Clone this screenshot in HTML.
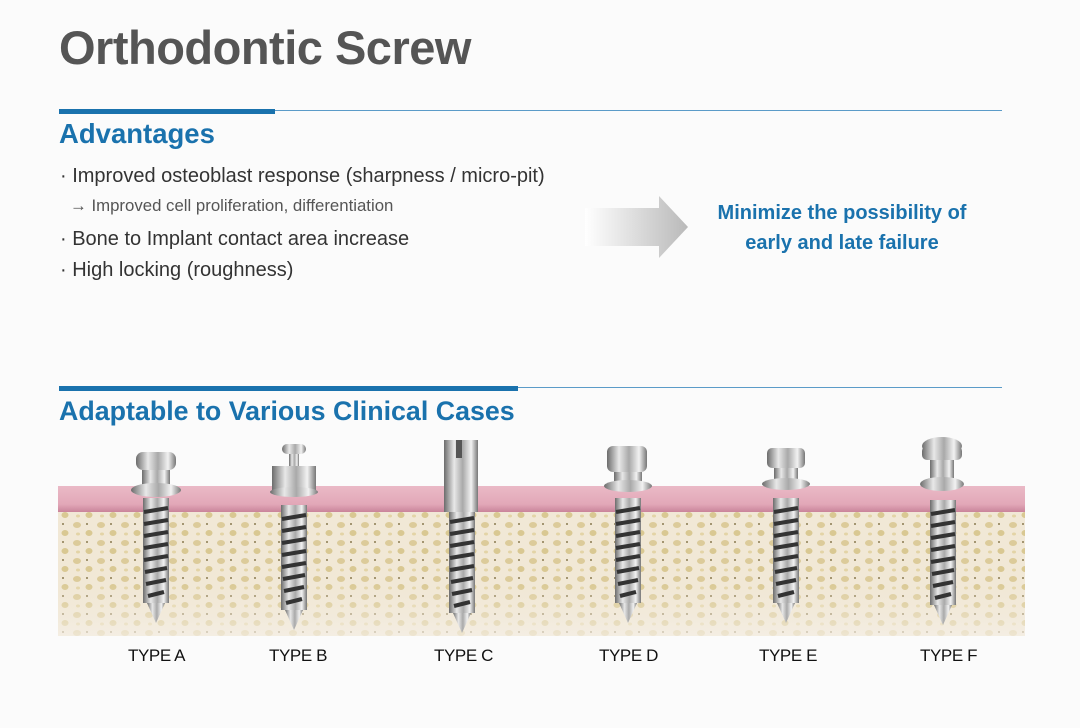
<!DOCTYPE html>
<html><head><meta charset="utf-8"><style>
html,body{margin:0;padding:0;width:1080px;height:728px;overflow:hidden;background:#fbfbfb;font-family:"Liberation Sans",Arial,sans-serif;}
.a{position:absolute;white-space:nowrap}
</style></head><body>
<div class="a" style="left:59px;top:20px;font-size:47px;font-weight:bold;color:#555;letter-spacing:-0.5px">Orthodontic Screw</div>
<div class="a" style="left:59px;top:110px;width:943px;height:1px;background:#5b9bc8"></div>
<div class="a" style="left:59px;top:109px;width:216px;height:5px;background:#1a72ad"></div>
<div class="a" style="left:59px;top:118px;font-size:27.5px;font-weight:bold;color:#1a72ad">Advantages</div>
<div class="a" style="left:60px;top:165px;font-size:20px;color:#333">· Improved osteoblast response (sharpness / micro-pit)</div>
<div class="a" style="left:70px;top:196px;font-size:16.8px;color:#555">→ Improved cell proliferation, differentiation</div>
<div class="a" style="left:60px;top:228px;font-size:20px;color:#333">· Bone to Implant contact area increase</div>
<div class="a" style="left:60px;top:259px;font-size:20px;color:#333">· High locking (roughness)</div>
<svg class="a" style="left:585px;top:196px" width="104" height="64"><defs><linearGradient id="ag" x1="0" x2="1"><stop offset="0" stop-color="#fff"/><stop offset="1" stop-color="#b9b9b9"/></linearGradient></defs><polygon points="0,12 74,12 74,0 103,31 74,62 74,50 0,50" fill="url(#ag)"/></svg>
<div class="a" style="left:692px;top:198px;width:300px;text-align:center;font-size:20px;font-weight:bold;color:#1a72ad;line-height:30px">Minimize the possibility of<br>early and late failure</div>
<div class="a" style="left:59px;top:387px;width:943px;height:1px;background:#5b9bc8"></div>
<div class="a" style="left:59px;top:386px;width:459px;height:5px;background:#1a72ad"></div>
<div class="a" style="left:59px;top:396px;font-size:26.8px;font-weight:bold;color:#1a72ad">Adaptable to Various Clinical Cases</div>
<svg class="a" style="left:0;top:430px" width="1080" height="220">
<defs>
<pattern id="bone" width="24" height="18" patternUnits="userSpaceOnUse"><rect width="24" height="18" fill="#f1e8d6"/><ellipse cx="5" cy="5" rx="4" ry="3" fill="#dccb9a"/><ellipse cx="17" cy="13" rx="3.5" ry="3" fill="#d9c892"/><circle cx="15" cy="4" r="1" fill="#8a7a50"/><ellipse cx="6" cy="14" rx="2" ry="1.5" fill="#e3d4a6"/></pattern>
<linearGradient id="gum" x1="0" y1="0" x2="0" y2="1"><stop offset="0" stop-color="#eab9c6"/><stop offset="0.7" stop-color="#e2a8b8"/><stop offset="1" stop-color="#c9849a"/></linearGradient>
<linearGradient id="m" x1="0" x2="1"><stop offset="0" stop-color="#6c6c6c"/><stop offset="0.3" stop-color="#e8e8e8"/><stop offset="0.55" stop-color="#a9a9a9"/><stop offset="0.8" stop-color="#f2f2f2"/><stop offset="1" stop-color="#777"/></linearGradient>
<linearGradient id="fade" x1="0" y1="0" x2="0" y2="1"><stop offset="0" stop-color="#f1e8d6" stop-opacity="0"/><stop offset="1" stop-color="#f5f0e8" stop-opacity="0.7"/></linearGradient>
<g id="body"><rect x="-13" y="0" width="26" height="105" fill="url(#m)"/><g stroke="#333" stroke-width="4"><line x1="-12" y1="14" x2="12" y2="10"/><line x1="-12" y1="26" x2="12" y2="22"/><line x1="-12" y1="38" x2="12" y2="34"/><line x1="-12" y1="50" x2="12" y2="46"/><line x1="-12" y1="62" x2="12" y2="58"/><line x1="-11" y1="74" x2="11" y2="70"/><line x1="-10" y1="86" x2="10" y2="82"/><line x1="-8" y1="98" x2="8" y2="94"/></g><polygon points="-9,105 9,105 0,125" fill="url(#m)"/></g>
</defs>
<rect x="58" y="56" width="967" height="26" fill="url(#gum)"/>
<rect x="58" y="82" width="967" height="124" fill="url(#bone)"/>
<rect x="58" y="150" width="967" height="56" fill="url(#fade)"/>
<use href="#body" x="156" y="68"/>
<rect x="136" y="22" width="40" height="18" rx="7" fill="url(#m)"/><rect x="142" y="40" width="28" height="16" fill="url(#m)"/><ellipse cx="156" cy="60" rx="25" ry="7" fill="url(#m)"/>
<use href="#body" x="294" y="75"/>
<rect x="282" y="14" width="24" height="10" rx="5" fill="url(#m)"/><rect x="289" y="24" width="10" height="12" fill="url(#m)"/><rect x="272" y="36" width="44" height="26" fill="url(#m)"/><ellipse cx="294" cy="62" rx="24" ry="5" fill="url(#m)"/>
<use href="#body" x="462" y="78"/>
<rect x="444" y="10" width="34" height="72" fill="url(#m)"/><rect x="456" y="10" width="6" height="18" fill="#555"/>
<use href="#body" x="628" y="68"/>
<rect x="607" y="16" width="40" height="26" rx="6" fill="url(#m)"/><rect x="614" y="42" width="28" height="12" fill="url(#m)"/><ellipse cx="628" cy="56" rx="24" ry="6" fill="url(#m)"/>
<use href="#body" x="786" y="68"/>
<rect x="767" y="18" width="38" height="20" rx="5" fill="url(#m)"/><rect x="774" y="38" width="24" height="12" fill="url(#m)"/><ellipse cx="786" cy="54" rx="24" ry="6" fill="url(#m)"/>
<use href="#body" x="943" y="70"/>
<ellipse cx="942" cy="16" rx="20" ry="9" fill="url(#m)"/><rect x="922" y="16" width="40" height="14" rx="5" fill="url(#m)"/><rect x="930" y="30" width="24" height="18" fill="url(#m)"/><ellipse cx="942" cy="54" rx="22" ry="7" fill="url(#m)"/>
</svg>
<div class="a" style="left:128px;top:646px;font-size:17px;color:#111;letter-spacing:-0.4px">TYPE A</div>
<div class="a" style="left:269px;top:646px;font-size:17px;color:#111;letter-spacing:-0.4px">TYPE B</div>
<div class="a" style="left:434px;top:646px;font-size:17px;color:#111;letter-spacing:-0.4px">TYPE C</div>
<div class="a" style="left:599px;top:646px;font-size:17px;color:#111;letter-spacing:-0.4px">TYPE D</div>
<div class="a" style="left:759px;top:646px;font-size:17px;color:#111;letter-spacing:-0.4px">TYPE E</div>
<div class="a" style="left:920px;top:646px;font-size:17px;color:#111;letter-spacing:-0.4px">TYPE F</div>
</body></html>
